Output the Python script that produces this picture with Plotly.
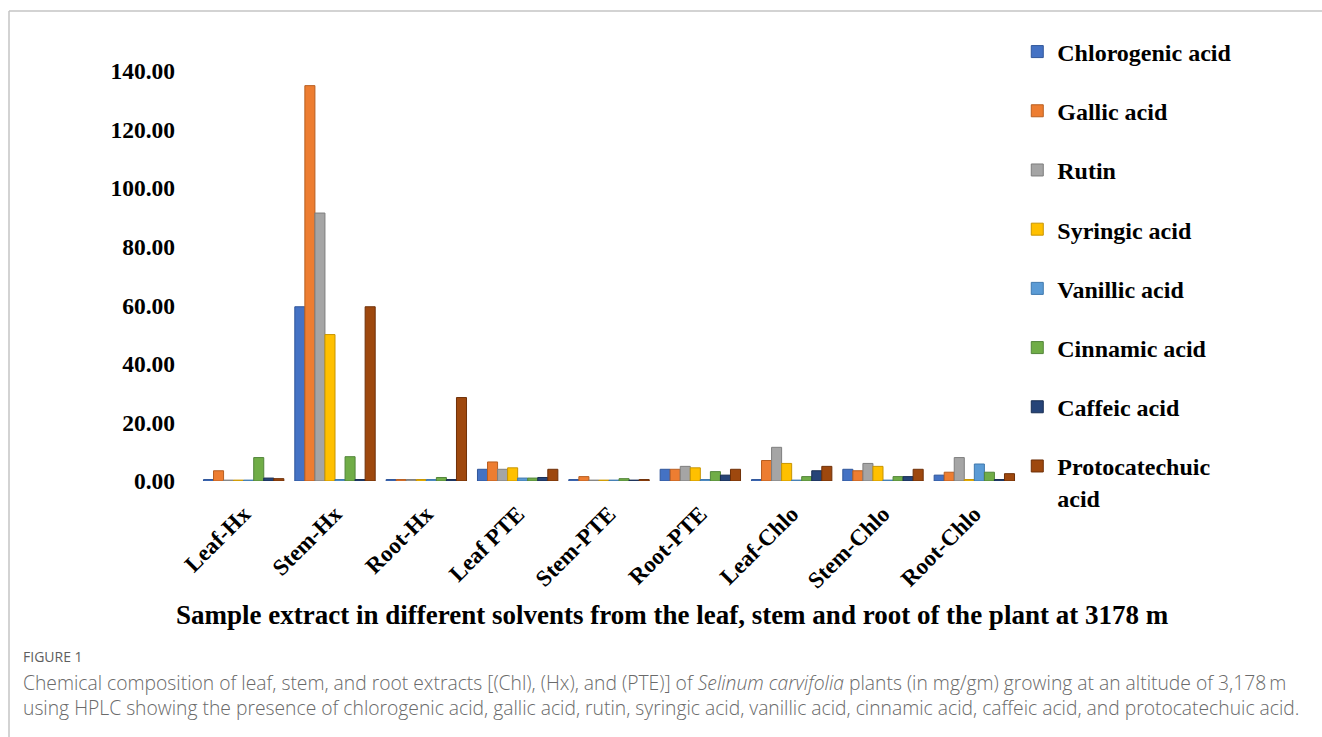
import plotly.graph_objects as go

W, H = 1322, 737

samples = ["Leaf-Hx", "Stem-Hx", "Root-Hx", "Leaf PTE", "Stem-PTE",
           "Root-PTE", "Leaf-Chlo", "Stem-Chlo", "Root-Chlo"]

chlorogenic = [0.5, 59.5, 0.5, 4.0, 0.5, 4.0, 0.5, 4.0, 2.0]
gallic = [3.5, 135.0, 0.5, 6.5, 1.5, 4.0, 7.0, 3.5, 3.0]
rutin = [0.3, 91.5, 0.5, 4.0, 0.3, 5.0, 11.5, 6.0, 8.0]
syringic = [0.3, 50.0, 0.5, 4.5, 0.3, 4.5, 6.0, 5.0, 0.5]
vanillic = [0.3, 0.5, 0.5, 1.0, 0.3, 0.5, 0.3, 0.3, 5.8]
cinnamic = [8.0, 8.3, 1.2, 1.0, 0.8, 3.2, 1.5, 1.5, 3.0]
caffeic = [1.0, 0.5, 0.5, 1.2, 0.3, 2.0, 3.5, 1.5, 0.5]
protocatechuic = [0.8, 59.5, 28.5, 4.0, 0.5, 4.0, 5.0, 4.0, 2.5]

series_names = ["Chlorogenic acid", "Gallic acid", "Rutin", "Syringic acid",
                "Vanillic acid", "Cinnamic acid", "Caffeic acid",
                "Protocatechuic<br>acid"]
series_values = [chlorogenic, gallic, rutin, syringic, vanillic, cinnamic,
                 caffeic, protocatechuic]
colors = ["#4472C4", "#ED7D31", "#A5A5A5", "#FFC000",
          "#5B9BD5", "#70AD47", "#264478", "#9E480E"]
edges = ["#30569a", "#b85e20", "#7e7e7e", "#c89500",
         "#3f78ad", "#52853a", "#182d52", "#6f3008"]

y_ticks = [0, 20, 40, 60, 80, 100, 120, 140]

x_title = "Sample extract in different solvents from the leaf, stem and root of the plant at 3178 m"
fig_label = "FIGURE 1"
caption = ("Chemical composition of leaf, stem, and root extracts [(Chl), (Hx), and (PTE)] of "
           "<i>Selinum carvifolia</i> plants (in mg/gm) growing at an altitude of 3,178\u2009m"
           "<br>using HPLC showing the presence of chlorogenic acid, gallic acid, rutin, syringic acid, "
           "vanillic acid, cinnamic acid, caffeic acid, and protocatechuic acid.")

# plot area in pixels
ML, MR, MT, MB = 198, 302, 71, 256
PW, PH = W - ML - MR, H - MT - MB


def px(x):
    return (x - ML) / PW


def py(y):
    return (H - MB - y) / PH


SERIF = "Liberation Serif, Times New Roman, serif"
SANS = "Open Sans, Noto Sans, sans-serif"
CAPTION_GREY = "#6a6a6a"

fig = go.Figure()
for name, vals, c, e in zip(series_names, series_values, colors, edges):
    fig.add_trace(go.Bar(
        x=samples, y=vals, name=name, legendgroup=name,
        marker=dict(color=c, line=dict(color=e, width=1)),
    ))

fig.update_layout(
    width=W, height=H,
    margin=dict(l=ML, r=MR, t=MT, b=MB, autoexpand=False),
    paper_bgcolor="white", plot_bgcolor="white",
    barmode="group", bargap=0.12, bargroupgap=0,
    font=dict(family=SERIF, color="black"),
    showlegend=True,
    legend=dict(
        xref="container", yref="container", x=0.7695, y=0.960,
        xanchor="left", yanchor="top", maxheight=720,
        font=dict(family=SERIF, size=24, color="black", weight="bold"),
        tracegroupgap=25, valign="top", bgcolor="rgba(0,0,0,0)",
    ),
    xaxis=dict(
        tickangle=-45, showline=False, showgrid=False, ticks="",
        tickfont=dict(family=SERIF, size=23, color="black", weight="bold"),
        ticklabelstandoff=14,
    ),
    yaxis=dict(
        range=[0, 140], tickvals=y_ticks, tickformat=".2f",
        showline=False, showgrid=False, zeroline=False, ticks="",
        tickfont=dict(family=SERIF, size=23.5, color="black", weight="bold"),
        ticklabelstandoff=22,
    ),
)

annotations = [
    dict(text=x_title, x=px(672), y=py(615),
         font=dict(family=SERIF, size=27, color="black", weight="bold")),
    dict(text=fig_label, x=px(22), y=py(656), xanchor="left",
         font=dict(family=SANS, size=14, color="#5e5e5e")),
    dict(text=caption, x=px(22), y=py(695), xanchor="left", align="left",
         font=dict(family=SANS, size=19.3, color=CAPTION_GREY, weight=300)),
]
for a in annotations:
    a.update(xref="paper", yref="paper", showarrow=False, borderpad=0,
             yanchor="middle", xanchor=a.get("xanchor", "center"))
fig.update_layout(annotations=annotations)

# figure frame (top and left edges)
frame = dict(type="line", xref="paper", yref="paper",
             line=dict(color="#c4c4c4", width=1.5))
fig.add_shape(**frame, x0=px(9), x1=px(W + 5), y0=py(11), y1=py(11))
fig.add_shape(**frame, x0=px(9), x1=px(9), y0=py(11), y1=py(H + 5))

fig.write_html("out.html")
